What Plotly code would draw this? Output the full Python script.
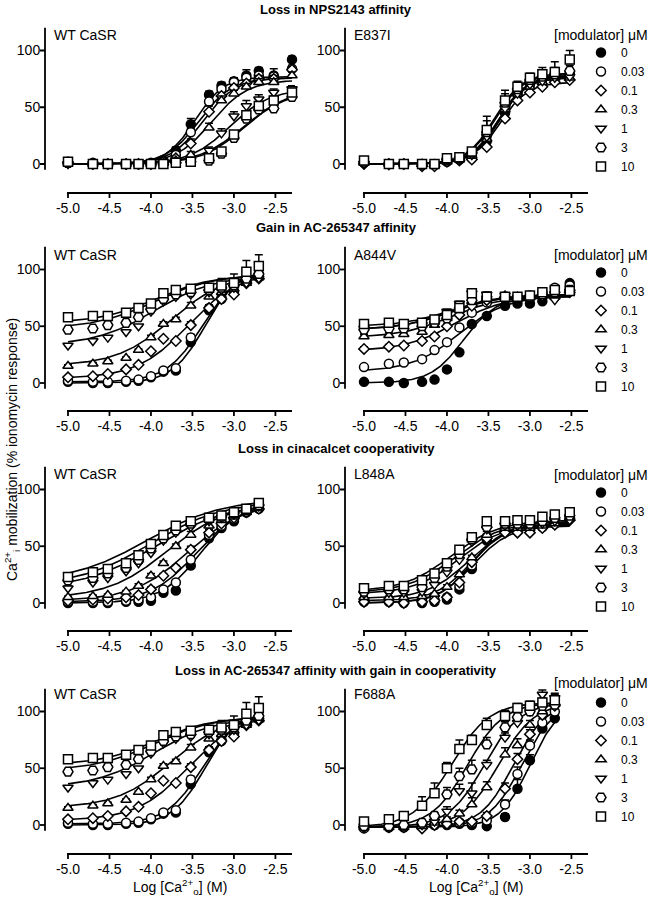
import numpy as np
import plotly.graph_objects as go

W, H = 650, 898
FONT = "Liberation Sans, Arial, Helvetica, sans-serif"

# ---------------- data ----------------
LOG_CA = [-5.0, -4.7, -4.52, -4.3, -4.15, -4.0, -3.85, -3.7, -3.52, -3.3, -3.15, -3.0, -2.85, -2.7, -2.52, -2.3]
MODULATOR_UM = ["0", "0.03", "0.1", "0.3", "1", "3", "10"]

ROW_TITLES = ["Loss in NPS2143 affinity", "Gain in AC-265347 affinity",
              "Loss in cinacalcet cooperativity",
              "Loss in AC-265347 affinity with gain in cooperativity"]
PANEL_LABELS = ["WT CaSR", "E837I", "WT CaSR", "A844V", "WT CaSR", "L848A", "WT CaSR", "F688A"]
X_TICKS = [-5.0, -4.5, -4.0, -3.5, -3.0, -2.5]
X_TICK_TEXT = ["-5.0", "-4.5", "-4.0", "-3.5", "-3.0", "-2.5"]
Y_TICKS = [0, 50, 100]

# responses (% ionomycin), one row per modulator concentration
WT_NPS_Y = [
    [2, 1, 0, 0, 0, 1, 3, 12, 35, 61, 69, 73, 78, 82, 78, 92],
    [1, 0, 0, 0, 0, 0, 2, 8, 28, 55, 66, 72, 76, 78, 77, 84],
    [1, 0, 0, 0, 0, 0, 2, 5, 18, 46, 60, 67, 71, 75, 75, 83],
    [1, 0, 0, 0, 0, 0, 1, 3, 8, 32, 56, 62, 68, 72, 72, 78],
    [0, 0, 0, 0, 0, 0, 1, 2, 3, 12, 27, 42, 51, 57, 63, 66],
    [1, 0, 0, 0, 0, 0, 0, 1, 2, 3, 9, 23, 40, 48, 49, 59],
    [2, 0, 0, 0, 0, 0, 0, 1, 2, 5, 11, 26, 43, 51, 56, 63],
]
WT_NPS_ERR = [
    [2, 1, 1, 1, 1, 1, 2, 3, 5, 3, 3, 3, 5, 3, 6, 3],
    [1, 1, 1, 1, 1, 1, 1, 2, 3, 3, 3, 3, 3, 3, 3, 3],
    [1, 1, 1, 1, 1, 1, 1, 2, 4, 5, 3, 3, 3, 3, 3, 3],
    [1, 1, 1, 1, 1, 1, 1, 2, 3, 4, 4, 3, 3, 3, 3, 3],
    [1, 1, 1, 1, 1, 1, 1, 1, 2, 3, 4, 4, 5, 4, 3, 3],
    [1, 1, 1, 1, 1, 1, 1, 1, 1, 2, 3, 3, 4, 4, 3, 3],
    [1, 1, 1, 1, 1, 1, 1, 1, 1, 2, 3, 3, 4, 4, 4, 3],
]
WT_NPS_FIT = [  # bottom, top, logEC50, Hill slope
    [0, 77, -3.47, 2.5], [0, 76, -3.42, 2.2], [0, 76, -3.37, 2.2], [0, 74, -3.27, 2.0],
    [0, 66, -3.05, 1.8], [0, 64, -2.88, 1.7], [0, 66, -2.88, 1.6],
]

E837I_Y = [
    [2, 0, 0, 0, 0, 2, 4, 5, 20, 45, 62, 72, 76, 80, 79],
    [1, 0, 0, -1, -1, 3, 4, 6, 25, 50, 63, 70, 75, 78, 80],
    [0, 0, 0, -2, -2, 2, 3, 4, 15, 40, 56, 63, 68, 72, 74],
    [1, 0, 0, 0, -1, 2, 4, 7, 22, 48, 62, 68, 72, 76, 76],
    [0, -1, 0, -1, 0, 3, 4, 8, 24, 49, 62, 70, 73, 76, 77],
    [2, 0, 0, 0, 0, 4, 5, 10, 28, 54, 66, 74, 77, 79, 82],
    [3, 0, 0, 0, 0, 5, 6, 11, 30, 56, 68, 76, 79, 81, 92],
]
E837I_ERR = [
    [2, 1, 1, 1, 1, 2, 2, 2, 6, 5, 4, 3, 3, 4, 5],
    [2, 1, 1, 1, 1, 2, 2, 2, 8, 6, 4, 3, 4, 4, 4],
    [1, 1, 1, 1, 1, 1, 2, 2, 4, 4, 3, 3, 3, 3, 3],
    [1, 1, 1, 1, 1, 1, 2, 2, 5, 5, 3, 3, 3, 3, 3],
    [1, 1, 1, 1, 1, 1, 2, 2, 6, 5, 3, 3, 3, 3, 3],
    [2, 1, 1, 1, 1, 2, 2, 2, 10, 8, 5, 4, 5, 6, 5],
    [3, 1, 1, 1, 1, 2, 2, 3, 12, 9, 5, 4, 6, 9, 8],
]
E837I_FIT = [
    [0, 78, -3.36, 2.6], [0, 78, -3.38, 2.6], [0, 72, -3.36, 2.6], [0, 76, -3.38, 2.6],
    [0, 77, -3.38, 2.6], [0, 79, -3.42, 2.6], [0, 80, -3.43, 2.6],
]

WT_AC_Y = [
    [1, 0, 0, 1, 2, 5, 10, 11, 36, 64, 74, 80, 90, 95],
    [2, 1, 1, 2, 3, 6, 11, 13, 40, 66, 75, 81, 90, 96],
    [5, 6, 8, 12, 16, 28, 39, 37, 51, 66, 74, 78, 88, 92],
    [15, 17, 19, 22, 29, 40, 52, 56, 68, 76, 80, 83, 88, 93],
    [33, 37, 40, 45, 50, 63, 72, 76, 78, 80, 82, 84, 88, 92],
    [47, 48, 51, 53, 58, 65, 74, 78, 80, 82, 84, 86, 92, 96],
    [58, 59, 59, 62, 66, 70, 79, 82, 83, 84, 86, 88, 98, 103],
]
WT_AC_ERR = [
    [1, 1, 1, 1, 1, 1, 1, 1, 5, 3, 3, 3, 4, 5],
    [1, 1, 1, 1, 1, 1, 1, 1, 3, 3, 3, 3, 4, 4],
    [1, 1, 1, 1, 1, 1, 1, 1, 3, 3, 3, 3, 4, 4],
    [1, 1, 1, 1, 1, 2, 2, 2, 3, 3, 3, 3, 4, 5],
    [1, 1, 1, 1, 1, 2, 2, 2, 3, 3, 3, 4, 5, 5],
    [1, 1, 1, 1, 1, 2, 2, 2, 3, 3, 4, 5, 6, 6],
    [2, 2, 2, 2, 2, 2, 3, 2, 2, 2, 6, 8, 10, 10],
]
WT_AC_FIT = [
    [0, 100, -3.35, 2.2], [1, 100, -3.38, 2.0], [4, 98, -3.55, 1.4], [15, 97, -3.75, 1.3],
    [33, 95, -3.95, 1.2], [48, 96, -3.95, 1.2], [53, 95, -3.95, 1.3],
]

A844V_Y = [
    [1, 1, 0, 1, 3, 12, 27, 52, 59, 68, 70, 70, 72, 77, 88],
    [14, 17, 18, 21, 29, 36, 49, 62, 71, 75, 74, 77, 80, 84, 86],
    [30, 32, 33, 37, 41, 50, 60, 68, 73, 75, 74, 75, 77, 76, 80],
    [41, 42, 43, 45, 51, 57, 65, 72, 76, 77, 76, 76, 77, 76, 80],
    [48, 50, 49, 51, 55, 63, 70, 79, 78, 77, 75, 75, 76, 73, 80],
    [47, 48, 48, 50, 53, 57, 66, 73, 76, 76, 75, 76, 78, 80, 82],
    [52, 53, 52, 53, 56, 60, 66, 79, 76, 76, 76, 77, 80, 82, 81],
]
A844V_ERR = [
    [1, 1, 1, 1, 1, 2, 2, 2, 2, 2, 2, 2, 2, 2, 2],
    [2, 2, 2, 2, 2, 2, 2, 2, 2, 2, 2, 2, 2, 2, 2],
    [2, 2, 2, 2, 2, 2, 2, 2, 2, 2, 2, 2, 2, 2, 2],
    [2, 2, 2, 2, 2, 2, 2, 2, 2, 2, 2, 2, 2, 2, 2],
    [2, 2, 2, 2, 2, 2, 2, 2, 2, 2, 2, 2, 2, 2, 2],
    [2, 2, 2, 2, 2, 2, 2, 2, 2, 2, 2, 2, 2, 2, 2],
    [2, 2, 2, 2, 2, 2, 2, 2, 2, 2, 2, 2, 2, 3, 3],
]
A844V_FIT = [
    [0, 76, -3.80, 2.2], [10, 77, -3.85, 1.5], [28, 77, -3.90, 1.4], [40, 77, -3.95, 1.4],
    [47, 77, -4.00, 1.5], [47, 78, -3.95, 1.4], [50, 78, -3.95, 1.5],
]

WT_CIN_Y = [
    [0, 0, 0, 1, 1, 2, 9, 11, 33, 57, 66, 72, 80, 83],
    [1, 1, 1, 2, 3, 5, 12, 18, 38, 60, 68, 74, 80, 84],
    [2, 3, 4, 5, 7, 12, 24, 31, 47, 62, 70, 75, 80, 83],
    [5, 6, 7, 10, 15, 24, 35, 50, 60, 68, 73, 76, 80, 84],
    [13, 18, 22, 28, 35, 44, 55, 62, 67, 72, 75, 78, 82, 85],
    [20, 22, 26, 31, 38, 48, 57, 64, 70, 74, 76, 79, 82, 86],
    [23, 27, 30, 35, 42, 52, 60, 68, 72, 75, 77, 80, 83, 88],
]
WT_CIN_ERR = [
    [1, 1, 1, 1, 1, 1, 2, 2, 3, 3, 3, 3, 3, 3],
    [1, 1, 1, 1, 1, 1, 2, 2, 3, 3, 3, 3, 3, 3],
    [1, 1, 1, 1, 1, 2, 2, 2, 3, 3, 3, 3, 3, 3],
    [1, 1, 1, 1, 2, 2, 2, 2, 3, 3, 3, 3, 3, 3],
    [2, 2, 2, 2, 2, 2, 2, 2, 3, 3, 3, 3, 3, 3],
    [2, 2, 2, 2, 2, 2, 2, 2, 3, 3, 3, 3, 3, 3],
    [2, 2, 2, 2, 2, 2, 2, 2, 3, 3, 3, 3, 3, 3],
]
WT_CIN_FIT = [
    [0, 88, -3.40, 1.8], [1, 88, -3.45, 1.6], [2, 88, -3.55, 1.3], [4, 88, -3.80, 1.2],
    [12, 88, -3.95, 1.0], [15, 90, -4.00, 1.0], [18, 92, -4.05, 0.95],
]

L848A_Y = [
    [1, 1, 0, 0, 1, 3, 12, 30, 55, 65, 64, 65, 67, 70, 77],
    [3, 3, 2, 2, 3, 5, 15, 33, 58, 65, 64, 65, 67, 70, 76],
    [1, 1, 0, 1, 2, 5, 18, 36, 57, 62, 62, 62, 66, 69, 73],
    [5, 5, 5, 6, 8, 14, 25, 40, 60, 66, 66, 66, 68, 70, 75],
    [8, 9, 9, 10, 16, 27, 38, 54, 65, 68, 68, 68, 70, 72, 73],
    [10, 12, 12, 14, 22, 32, 43, 56, 67, 70, 70, 70, 72, 75, 77],
    [13, 15, 15, 20, 26, 35, 47, 58, 72, 72, 73, 73, 76, 78, 80],
]
L848A_ERR = [
    [1, 1, 1, 1, 1, 1, 2, 2, 3, 3, 2, 2, 2, 2, 2],
    [1, 1, 1, 1, 1, 1, 2, 2, 3, 3, 2, 2, 2, 2, 2],
    [1, 1, 1, 1, 1, 1, 2, 2, 3, 3, 2, 2, 2, 2, 2],
    [1, 1, 1, 1, 1, 2, 2, 2, 3, 3, 2, 2, 2, 2, 2],
    [1, 1, 1, 1, 2, 2, 2, 2, 3, 3, 2, 2, 2, 2, 2],
    [1, 1, 1, 1, 2, 2, 2, 2, 3, 3, 2, 2, 2, 2, 2],
    [2, 2, 2, 2, 2, 2, 2, 3, 3, 3, 2, 2, 2, 2, 2],
]
L848A_FIT = [
    [0, 70, -3.70, 2.2], [2, 70, -3.70, 2.0], [0, 68, -3.68, 2.0], [4, 69, -3.75, 1.8],
    [8, 70, -3.85, 1.6], [9, 72, -3.90, 1.5], [10, 73, -3.95, 1.5],
]

F688A_Y = [
    [-2, -2, -2, -1, 0, 0, 1, 0, -1, 7, 32, 57, 85, 94],
    [-3, -2, -2, -1, 0, 1, 2, 2, 4, 18, 45, 70, 90, 100],
    [-2, -2, -2, -3, 0, 1, 3, 3, 8, 32, 58, 80, 97, 105],
    [-2, -2, -2, -1, 2, 5, 10, 18, 33, 62, 70, 88, 100, 108],
    [-1, -2, -1, 0, 3, 12, 30, 28, 53, 77, 90, 100, 115, 112],
    [-1, -1, 0, 2, 8, 27, 43, 49, 71, 86, 95, 100, 105, 106],
    [3, 5, 8, 17, 28, 50, 67, 75, 88, 96, 103, 105, 108, 110],
]
F688A_ERR = [
    [1, 1, 1, 1, 1, 1, 1, 1, 2, 3, 8, 5, 4, 3],
    [1, 1, 1, 1, 1, 1, 1, 1, 2, 4, 6, 5, 4, 4],
    [1, 1, 1, 1, 1, 1, 2, 2, 3, 5, 5, 4, 4, 4],
    [1, 1, 1, 1, 2, 2, 3, 6, 5, 6, 6, 4, 4, 4],
    [1, 1, 1, 2, 3, 4, 6, 9, 4, 4, 6, 4, 4, 4],
    [2, 2, 2, 2, 3, 6, 7, 8, 6, 5, 4, 4, 4, 4],
    [2, 2, 2, 8, 9, 5, 8, 4, 6, 5, 4, 4, 4, 5],
]
F688A_FIT = [
    [-2, 108, -3.00, 2.4], [-2, 108, -3.10, 2.2], [-2, 108, -3.20, 2.2], [-2, 108, -3.38, 2.0],
    [-2, 108, -3.55, 2.0], [-2, 108, -3.75, 2.0], [-2, 108, -3.95, 1.9],
]

PANELS = [
    (WT_NPS_Y, WT_NPS_ERR, WT_NPS_FIT),
    (E837I_Y, E837I_ERR, E837I_FIT),
    (WT_AC_Y, WT_AC_ERR, WT_AC_FIT),
    (A844V_Y, A844V_ERR, A844V_FIT),
    (WT_CIN_Y, WT_CIN_ERR, WT_CIN_FIT),
    (L848A_Y, L848A_ERR, L848A_FIT),
    (WT_AC_Y, WT_AC_ERR, WT_AC_FIT),
    (F688A_Y, F688A_ERR, F688A_FIT),
]

# ---------------- styles / layout geometry (pixels) ----------------
SYMBOLS = ["circle", "circle", "diamond", "triangle-up", "triangle-down", "hexagon2", "square"]
SIZES = [9, 9, 8, 9, 9, 10, 9]
FILLS = ["black", "white", "white", "white", "white", "white", "white"]

ROW_ZERO_PX = [164, 383, 603, 825]      # pixel row of y = 0
PX_PER_UNIT = 1.135
Y_LINE_MIN, Y_MAX = -5, 120             # extent of drawn y axis line
X_LINE_MIN, X_MAX = -5.0, -2.3          # extent of drawn x axis line
XAXIS_LINE_PX = [193, 411, 631, 854]
COL_X0 = [68, 364]                      # pixel column of x = -5.0
COL_X1 = [292, 588]                     # pixel column of x = -2.3
YAXIS_LINE_PX = [45, 345]
TICK_LEN_PX = 5
PAD_PX = 9                              # plot area reaches past the axis lines
ROW_TITLE_PX = [9, 228, 448, 670]
PANEL_LABEL_PX = [35, 255, 474, 694]
LEGEND_TITLE_PX = [35, 255, 475, 683]
LEGEND_TOP_PX = [38, 258, 478, 688]


def fx(px):
    return px / W


def fy(py):
    return 1 - py / H


def hill(x, p):
    bottom, top, logec50, slope = p
    return bottom + (top - bottom) / (1 + 10 ** ((logec50 - x) * slope))


def segment(xa, xb, ya, yb, xref, yref):
    """One straight axis/tick segment drawn like the fitted curves (many points)."""
    return go.Scatter(
        x=np.linspace(xa, xb, 40).tolist(), y=np.linspace(ya, yb, 40).tolist(),
        mode="lines", line=dict(color="black", width=1.8),
        xaxis=xref, yaxis=yref, showlegend=False, hoverinfo="skip")


fig = go.Figure()
annotations = []
# plotly's own ticks are transparent and short: they only place the tick labels
AXIS_STYLE = dict(showline=False, ticks="outside", ticklen=2, tickwidth=1,
                  tickcolor="rgba(0,0,0,0)", showgrid=False, zeroline=False,
                  tickfont=dict(family=FONT, size=14, color="black"))

for i, (ys, errs, fits) in enumerate(PANELS):
    r, c = divmod(i, 2)
    n = i + 1
    xa_name = "xaxis" if n == 1 else f"xaxis{n}"
    ya_name = "yaxis" if n == 1 else f"yaxis{n}"
    xref = "x" if n == 1 else f"x{n}"
    yref = "y" if n == 1 else f"y{n}"
    legend_name = "legend" if r == 0 else f"legend{r + 1}"

    x_unit = (COL_X1[c] - COL_X0[c]) / (X_MAX - X_LINE_MIN)

    def xv(px, c=c, x_unit=x_unit):
        return X_LINE_MIN + (px - COL_X0[c]) / x_unit

    def yv(py, r=r):
        return (ROW_ZERO_PX[r] - py) / PX_PER_UNIT

    top_px = ROW_ZERO_PX[r] - Y_MAX * PX_PER_UNIT
    dom_l, dom_r = YAXIS_LINE_PX[c] - PAD_PX, COL_X1[c] + 3
    dom_b, dom_t = XAXIS_LINE_PX[r] + PAD_PX, top_px - 3

    fig.layout[xa_name] = dict(
        domain=[fx(dom_l), fx(dom_r)], range=[xv(dom_l), xv(dom_r)],
        anchor="free", position=fy(XAXIS_LINE_PX[r]),
        tickvals=X_TICKS, ticktext=X_TICK_TEXT, **AXIS_STYLE)
    fig.layout[ya_name] = dict(
        domain=[fy(dom_b), fy(dom_t)], range=[yv(dom_b), yv(dom_t)],
        anchor="free", position=fx(YAXIS_LINE_PX[c]),
        tickvals=Y_TICKS, **AXIS_STYLE)

    # detached (Prism-style) axis lines and tick marks
    xl_y, xt_y = yv(XAXIS_LINE_PX[r]), yv(XAXIS_LINE_PX[r] + TICK_LEN_PX)
    yl_x, yt_x = xv(YAXIS_LINE_PX[c]), xv(YAXIS_LINE_PX[c] - TICK_LEN_PX)
    fig.add_trace(segment(xv(COL_X0[c] - 1), X_MAX, xl_y, xl_y, xref, yref))
    fig.add_trace(segment(yl_x, yl_x, Y_LINE_MIN, Y_MAX, xref, yref))
    for t in X_TICKS:
        fig.add_trace(segment(t, t, xl_y, xt_y, xref, yref))
    for t in Y_TICKS:
        fig.add_trace(segment(yl_x, yt_x, t, t, xref, yref))

    npts = len(ys[0])
    xs = LOG_CA[:npts]
    xfine = np.linspace(xs[0], xs[-1], 200)

    for k in range(7):
        fig.add_trace(go.Scatter(
            x=xfine.tolist(), y=hill(xfine, fits[k]).tolist(), mode="lines",
            line=dict(color="black", width=1.6),
            xaxis=xref, yaxis=yref, showlegend=False, hoverinfo="skip"))
    for k in range(7):
        fig.add_trace(go.Scatter(
            x=xs, y=ys[k], mode="markers", name=MODULATOR_UM[k],
            marker=dict(symbol=SYMBOLS[k], size=SIZES[k], color=FILLS[k],
                        line=dict(color="black", width=1.5)),
            error_y=dict(type="data", array=errs[k], arrayminus=[0] * npts,
                         symmetric=False, color="black", thickness=1.5, width=4),
            xaxis=xref, yaxis=yref, cliponaxis=False,
            showlegend=(c == 1), legend=legend_name))

    annotations.append(dict(
        text=PANEL_LABELS[i], xref="paper", yref="paper",
        x=fx(YAXIS_LINE_PX[c] + 7), y=fy(PANEL_LABEL_PX[r]),
        xanchor="left", yanchor="middle", showarrow=False,
        font=dict(family=FONT, size=14, color="black")))

for r in range(4):
    annotations.append(dict(
        text="<b>" + ROW_TITLES[r] + "</b>", xref="paper", yref="paper",
        x=fx(336), y=fy(ROW_TITLE_PX[r]), xanchor="center", yanchor="middle",
        showarrow=False, font=dict(family=FONT, size=13, color="black")))
    annotations.append(dict(
        text="[modulator] μM", xref="paper", yref="paper",
        x=1.0, y=fy(LEGEND_TITLE_PX[r]), xanchor="right", yanchor="middle",
        showarrow=False, font=dict(family=FONT, size=14, color="black")))
    legend_name = "legend" if r == 0 else f"legend{r + 1}"
    fig.layout[legend_name] = dict(
        x=1.0, y=fy(LEGEND_TOP_PX[r]), xanchor="right", yanchor="top",
        bgcolor="rgba(0,0,0,0)", borderwidth=0, tracegroupgap=0,
        font=dict(family=FONT, size=12, color="black"), itemwidth=30)

annotations.append(dict(
    text="Ca<sup>2+</sup><sub>i</sub> mobilization (% ionomycin response)",
    xref="paper", yref="paper", x=0.0, y=fy(450), textangle=-90,
    xanchor="left", yanchor="middle", showarrow=False,
    font=dict(family=FONT, size=14, color="black")))
for cx in [180, 476]:
    annotations.append(dict(
        text="Log [Ca<sup>2+</sup><sub>o</sub>] (M)", xref="paper", yref="paper",
        x=fx(cx), y=fy(887), xanchor="center", yanchor="middle", showarrow=False,
        font=dict(family=FONT, size=14, color="black")))

fig.update_layout(
    width=W, height=H, margin=dict(l=0, r=0, t=0, b=0, autoexpand=False),
    paper_bgcolor="white", plot_bgcolor="rgba(0,0,0,0)",
    font=dict(family=FONT, color="black"),
    annotations=annotations,
)

fig.write_html("out.html", config={"displayModeBar": False},
               post_script="document.body.style.margin='0px';")
